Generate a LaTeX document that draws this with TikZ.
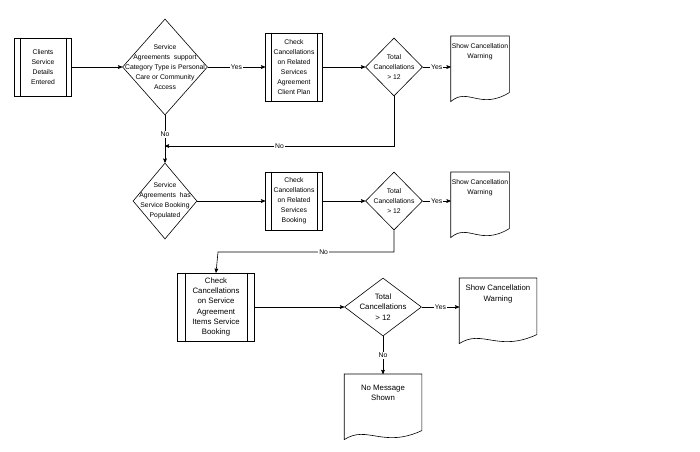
\documentclass[tikz,border=0pt]{standalone}
\usepackage{fontspec}
\setmainfont{Liberation Sans}
\usetikzlibrary{arrows,shapes,calc}

\newcommand{\docpath}[2]{%
  \draw ($(#1.north west)$) -- ($(#1.south west)+(0,9)$)
    .. controls ($(#1.south west)+(0.3*#2,-6)$) and ($(#1.south west)+(0.5*#2,18)$) .. (#1.south east)
    -- (#1.north east) -- cycle;}

\begin{document}
\begin{tikzpicture}[x=1pt,y=-1pt,->,>=stealth',semithick,
    font=\fontsize{6.8}{10}\selectfont,
    proc/.style={rectangle, draw, align=center, minimum width=57, inner sep=1pt},
    dec/.style={diamond, draw, inner sep=0pt},
    txt/.style={label={[align=center, inner sep=0pt]center:#1}},
    doc/.style={rectangle, align=center, minimum width=58, inner sep=0pt, anchor=north},
    lbl/.style={fill=white, inner sep=1pt}]
  \useasboundingbox (0,0) rectangle (700,451);

  \node[proc, minimum height=58] (clients) at (43,67) {Clients\\Service\\Details\\Entered};
  \node[dec, minimum width=85, minimum height=96,
    txt={Service\\Agreements\ \ support\\Category Type is Personal\\Care or Community\\Access}] (agrcat) at (165,67) {};
  \node[proc, minimum height=68] (chkplan) at (294,67) {Check\\Cancellations\\on Related\\Services\\Agreement\\Client Plan};
  \node[dec, minimum width=57, minimum height=58, txt={Total\\Cancellations\\> 12}] (totplan) at (394,67) {};
  \node[doc, minimum height=56] (warnplan) at (480,36) {Show Cancellation\\Warning\\[16pt]};

  \node[dec, minimum width=64, minimum height=76,
    txt={Service\\Agreements\ \ has\\Service Booking\\Populated}] (agrbook) at (165,201) {};
  \node[proc, minimum height=58] (chkbook) at (294,201) {Check\\Cancellations\\on Related\\Services\\Booking};
  \node[dec, minimum width=57, minimum height=58, txt={Total\\Cancellations\\> 12}] (totbook) at (394,201) {};
  \node[doc, minimum height=56] (warnbook) at (480,172) {Show Cancellation\\Warning\\[16pt]};

  \begin{scope}[font=\fontsize{7.8}{10.3}\selectfont]
  \node[proc, minimum height=68, minimum width=77] (chkitems) at (216,307) {Check\\Cancellations\\on Service\\Agreement\\Items Service\\Booking};
  \node[dec, minimum width=77, minimum height=58, txt={Total\\Cancellations\\> 12}] (totitems) at (383,307) {};
  \node[doc, minimum height=56, minimum width=77] (warnitems) at (498,278) {Show Cancellation\\Warning\\[16pt]};
  \node[doc, minimum height=56, minimum width=77] (nomsg) at (383,374) {No Message\\Shown\\[8pt]};
  \end{scope}

  \coordinate (join1) at (165,146);
  \coordinate (join2) at (218,252);

  \begin{scope}[-]
    \foreach \n/\d in {clients/6,chkplan/6,chkbook/6,chkitems/8}{
      \draw ($(\n.north west)+(\d,0)$) -- ($(\n.south west)+(\d,0)$);
      \draw ($(\n.north east)+(-\d,0)$) -- ($(\n.south east)+(-\d,0)$);
    }
    \foreach \n/\w in {warnplan/58,warnbook/58,warnitems/77,nomsg/77}{\docpath{\n}{\w}}
  \end{scope}

  \draw (clients) -- (agrcat);
  \draw (agrcat) -- node[lbl] {Yes} (chkplan);
  \draw (chkplan) -- (totplan);
  \draw (totplan) -- node[lbl] {Yes} (warnplan.west |- totplan);
  \draw (totplan.south) |- node[lbl, pos=0.75] {No} (join1);
  \draw (agrcat.south) -- node[lbl, pos=0.4] {No} (agrbook.north);
  \draw (agrbook) -- (chkbook);
  \draw (chkbook) -- (totbook);
  \draw (totbook) -- node[lbl] {Yes} (warnbook.west |- totbook);
  \draw (totbook.south) |- node[lbl, pos=0.7] {No} (join2) -- (chkitems.north);
  \draw (chkitems) -- (totitems);
  \draw (totitems) -- node[lbl] {Yes} (warnitems.west |- totitems);
  \draw (totitems.south) -- node[lbl] {No} (nomsg.north);
\end{tikzpicture}
\end{document}
